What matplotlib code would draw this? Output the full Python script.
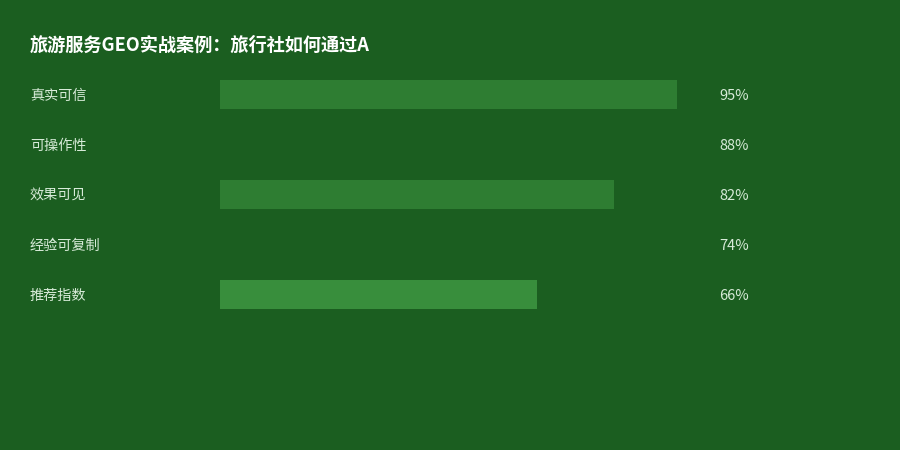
import matplotlib
matplotlib.use("Agg")
import matplotlib.pyplot as plt

plt.rcParams['font.family'] = ['Noto Sans CJK SC', 'DejaVu Sans']

title = "旅游服务GEO实战案例：旅行社如何通过A"
categories = ["真实可信", "可操作性", "效果可见", "经验可复制", "推荐指数"]
values = [95, 88, 82, 74, 66]
bar_colors = ["#2E7D32", "#1B5E20", "#2E7D32", "#1B5E20", "#388E3C"]
bg = "#1B5E20"
text_color = "#D7EBD8"

fig = plt.figure(figsize=(9, 4.5), dpi=100)
fig.patch.set_facecolor(bg)

ax = fig.add_axes([220/900, 1 - 319/450, 481/900, 250/450])
ax.set_facecolor(bg)
ypos = list(range(len(categories)))
ax.barh(ypos, values, height=0.58, color=bar_colors, left=0)
ax.set_xlim(0, 100)
ax.set_ylim(len(categories) - 0.5, -0.5)
ax.axis('off')

for i, (c, v) in enumerate(zip(categories, values)):
    ax.annotate(c, xy=(0, i), xycoords=('figure fraction', 'data'),
                xytext=(30, -1.5), textcoords='offset pixels',
                ha='left', va='center', color=text_color, fontsize=10.2)
    ax.annotate(f"{v}%", xy=(100, i), xycoords='data',
                xytext=(18, -1.5), textcoords='offset pixels',
                ha='left', va='center', color=text_color, fontsize=10.5)

fig.text(30/900, 1 - 45/450, title, ha='left', va='center',
         color='white', fontsize=13.1, fontweight='bold')

fig.savefig("out.png", dpi=100, facecolor=bg)
